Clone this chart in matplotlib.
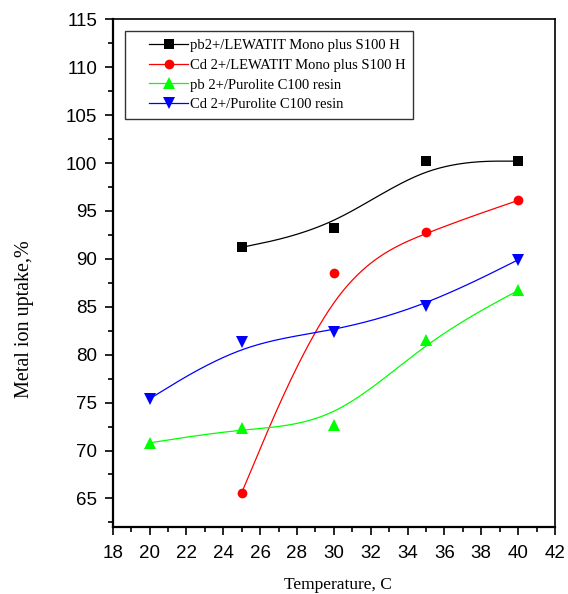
import numpy as np
import matplotlib
matplotlib.use("Agg")
import matplotlib.pyplot as plt
from matplotlib.ticker import MultipleLocator
from matplotlib.legend_handler import HandlerLine2D

# ---- data ----
temp_lew = [25, 30, 35, 40]
pb_lewatit = [91.2, 93.2, 100.2, 100.2]
cd_lewatit = [65.6, 88.5, 92.8, 96.1]

temp_pur = [20, 25, 30, 35, 40]
pb_purolite = [70.8, 72.3, 72.7, 81.5, 86.7]
cd_purolite = [75.4, 81.3, 82.4, 85.1, 89.9]

labels = ["pb2+/LEWATIT Mono plus S100 H",
          "Cd 2+/LEWATIT Mono plus S100 H",
          "pb 2+/Purolite C100 resin",
          "Cd 2+/Purolite C100 resin"]
colors = ["black", "#ff0000", "#00ff00", "#0000ff"]
markers = ["s", "o", "^", "v"]

x_ticks = list(range(18, 43, 2))
y_ticks = list(range(65, 116, 5))


def bspline(xs, ys, n=60):
    """Uniform cubic B-spline using data points as control points
    (end points tripled), like Origin's B-spline connect style."""
    px = np.r_[[xs[0]] * 2, xs, [xs[-1]] * 2].astype(float)
    py = np.r_[[ys[0]] * 2, ys, [ys[-1]] * 2].astype(float)
    t = np.linspace(0, 1, n)
    b0 = (1 - t) ** 3 / 6
    b1 = (3 * t ** 3 - 6 * t ** 2 + 4) / 6
    b2 = (-3 * t ** 3 + 3 * t ** 2 + 3 * t + 1) / 6
    b3 = t ** 3 / 6
    ox, oy = [], []
    for i in range(len(px) - 3):
        ox.append(b0 * px[i] + b1 * px[i + 1] + b2 * px[i + 2] + b3 * px[i + 3])
        oy.append(b0 * py[i] + b1 * py[i + 1] + b2 * py[i + 2] + b3 * py[i + 3])
    return np.concatenate(ox), np.concatenate(oy)


fig = plt.figure(figsize=(5.68, 5.94), dpi=100)
ax = fig.add_axes([0.1985, 0.1125, 0.7785, 0.855])

series = [(temp_lew, pb_lewatit), (temp_lew, cd_lewatit),
          (temp_pur, pb_purolite), (temp_pur, cd_purolite)]
msizes = [6.5, 7.0, 8.5, 8.5]
handles = []
for (xs, ys), c, m, lab, ms in zip(series, colors, markers, labels, msizes):
    cx, cy = bspline(xs, ys)
    ax.plot(cx, cy, color=c, lw=0.9, zorder=2)
    ax.plot(xs, ys, linestyle="none", marker=m, color=c, ms=ms,
            markeredgewidth=0, zorder=3)
    h, = ax.plot([], [], color=c, lw=0.9, marker=m, ms=ms, markeredgewidth=0,
                 label=lab)
    handles.append(h)

ax.set_xlim(18, 42)
ax.set_ylim(62, 115)
ax.set_xticks(x_ticks)
ax.set_yticks(y_ticks)
ax.xaxis.set_minor_locator(MultipleLocator(1))
ax.yaxis.set_minor_locator(MultipleLocator(2.5))

ax.tick_params(axis="both", which="major", direction="out", length=6,
               width=1.2, labelsize=13.5)
ax.tick_params(axis="x", which="major", pad=7)
ax.tick_params(axis="y", which="major", pad=5)
ax.tick_params(axis="both", which="minor", direction="out", length=3.5,
               width=1.2)
ax.tick_params(top=False, right=False, which="both")
for lab in ax.get_xticklabels() + ax.get_yticklabels():
    lab.set_fontfamily("Liberation Sans")

for side in ["left", "bottom"]:
    ax.spines[side].set_linewidth(1.6)
for side in ["top", "right"]:
    ax.spines[side].set_linewidth(1.2)

ax.set_xlabel("Temperature, C", fontfamily="Liberation Serif", fontsize=12.5)
ax.set_ylabel("Metal ion uptake,%", fontfamily="Liberation Serif", fontsize=14.5)
ax.xaxis.set_label_coords(0.51, -0.099)
ax.yaxis.set_label_coords(-0.178, 0.41)

hmap = {h: HandlerLine2D(xpad=1.15) for h in handles}
leg = ax.legend(handles=handles, loc="upper left", handler_map=hmap,
                bbox_to_anchor=(0.028, 0.976), frameon=True, fancybox=False,
                prop={"family": "Liberation Serif", "size": 10.5},
                handlelength=3.8, handletextpad=0.15, labelspacing=0.45,
                borderpad=0.5, borderaxespad=0)
leg.get_frame().set_edgecolor("black")
leg.get_frame().set_linewidth(1.0)

fig.savefig("out.png", dpi=100)
